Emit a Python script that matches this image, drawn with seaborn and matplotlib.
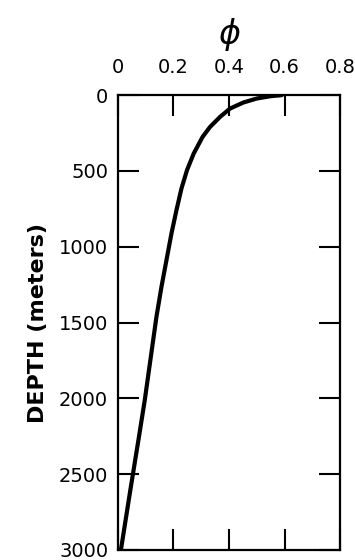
import matplotlib
matplotlib.use("Agg")
import matplotlib.pyplot as plt
import seaborn as sns
import pandas as pd

# porosity vs depth
depth = [0, 3, 7, 22, 48, 88, 143, 209, 275, 385, 494, 615, 758, 912, 1088,
         1264, 1461, 1879, 2010, 2253, 2604, 3000]
phi = [0.59, 0.57, 0.548, 0.500, 0.452, 0.404, 0.368, 0.332, 0.305, 0.273,
       0.249, 0.229, 0.211, 0.193, 0.175, 0.157, 0.139, 0.107, 0.097, 0.076,
       0.045, 0.011]

x_ticks = [0, 0.2, 0.4, 0.6, 0.8]
x_labels = ['0', '0.2', '0.4', '0.6', '0.8']
y_ticks = [0, 500, 1000, 1500, 2000, 2500, 3000]

sns.set_style('ticks')
plt.rcParams['font.family'] = ['DejaVu Sans']
plt.rcParams['text.color'] = 'black'
plt.rcParams['axes.labelcolor'] = 'black'

df = pd.DataFrame({'phi': phi, 'depth': depth})

fig = plt.figure(figsize=(3.55, 5.6), dpi=100)
ax = fig.add_axes([0.332, 0.018, 0.626, 0.812])

sns.lineplot(data=df, x='phi', y='depth', sort=False, estimator=None,
             color='black', linewidth=3.0, ax=ax)

ax.set_xlim(0, 0.8)
ax.set_ylim(3000, 0)
ax.set_xticks(x_ticks)
ax.set_xticklabels(x_labels)
ax.set_yticks(y_ticks)

ax.xaxis.tick_top()
ax.xaxis.set_label_position('top')
ax.tick_params(axis='x', which='both', top=True, bottom=True, direction='in',
               length=15, width=1.5, labelsize=14, pad=13, colors='black')
ax.tick_params(axis='y', which='both', left=True, right=True, direction='in',
               length=15, width=1.5, labelsize=14, pad=7, colors='black')

for s in ax.spines.values():
    s.set_visible(True)
    s.set_linewidth(1.6)
    s.set_color('black')

ax.set_xlabel(r'$\phi$', fontsize=24, labelpad=10)
ax.set_ylabel('DEPTH (meters)', fontsize=16, fontweight='bold', labelpad=8)

fig.savefig('out.png', dpi=100)
